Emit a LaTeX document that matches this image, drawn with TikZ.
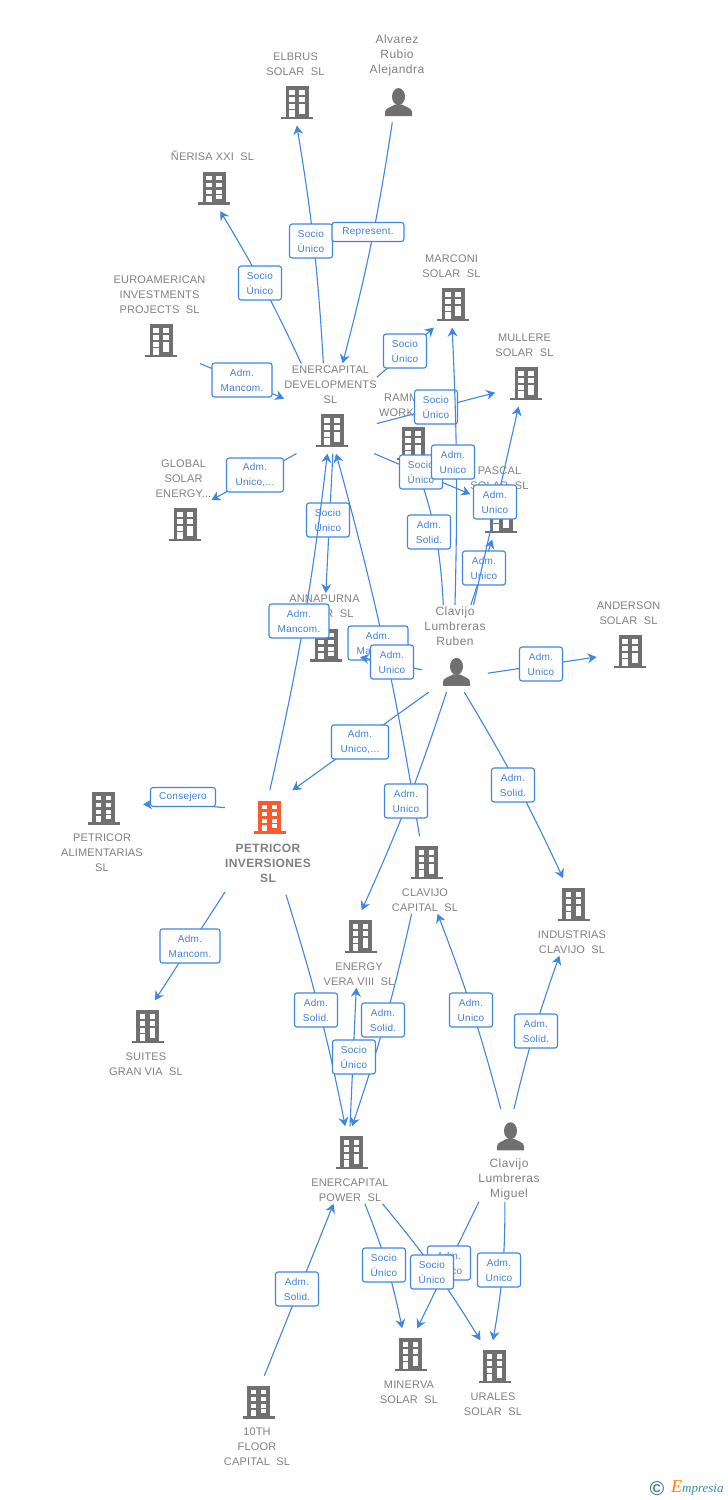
\documentclass[tikz,border=0pt]{standalone}
\usepackage{fontspec}
\setmainfont{Liberation Sans}
\newfontfamily\corpfont[LetterSpace=1.5]{Liberation Sans}
\newfontfamily\namefont[LetterSpace=4]{Liberation Sans}
\newfontfamily\mainfont[LetterSpace=3]{Liberation Sans}
\newfontfamily\tagfont[LetterSpace=2.5]{Liberation Sans}
\newfontfamily\markfont{Liberation Serif}
\usetikzlibrary{arrows.meta}
\definecolor{icogray}{HTML}{707070}
\definecolor{txtgray}{HTML}{808080}
\definecolor{lnkblue}{HTML}{3F86E2}
\definecolor{tagblue}{HTML}{3F80DC}
\definecolor{mainred}{HTML}{FB5A2E}
\definecolor{markblue}{HTML}{4F8098}
\definecolor{markteal}{HTML}{2F8FA8}
\newcommand{\bldg}[1][icogray]{\tikz[x=1pt,y=1pt]{
	\path (-3,-4) (32,41);
	\fill[#1] (0,0) rectangle (32,2.5);
	\fill[#1] (4.5,2) rectangle (27.5,33);
	\foreach \wy in {23.5,16.5,9.5} {\fill[white] (8,\wy+1) rectangle (13.7,\wy+5.5);}
	\foreach \wy in {23.5,16.5,9.5,4.5} {\fill[white] (18,\wy+1) rectangle (23.7,\wy+5.5);}
	\fill[white] (8,2.5) rectangle (13.7,9);
}}
\newcommand{\persn}{\tikz[x=1pt,y=1pt]{
	\path (-3,-4) (27,39);
	\fill[icogray] (13.5,19.5) ellipse (6.5 and 8.5);
	\fill[icogray] (0,0) -- (0,4) .. controls (0,8) and (6,9) .. (10,11.5) -- (17,11.5) .. controls (21,9) and (27,8) .. (27,4) -- (27,0) -- cycle;
}}
\tikzset{
	corp/.style={inner xsep=0pt,inner ysep=2pt,align=center,text=txtgray,font=\corpfont\fontsize{11}{15}\selectfont},
	pers/.style={inner xsep=2pt,inner ysep=2pt,align=center,text=txtgray,font=\namefont\fontsize{12}{15}\selectfont},
	hub/.style={inner xsep=0pt,inner ysep=2pt,align=center,text=txtgray,font=\mainfont\bfseries\fontsize{12}{15}\selectfont},
	lnk/.style={draw=lnkblue,line width=1.1pt,-{Stealth[length=9pt,width=10pt,inset=3pt]}},
	tag/.style={draw=lnkblue,fill=white,line width=1.1pt,rounded corners=2.5pt,inner sep=0pt,align=center,text=tagblue,minimum height=34pt,minimum width=43pt,font=\tagfont\fontsize{10}{15}\selectfont},
	tagw/.style={tag,minimum width=60pt},
	tagl/.style={tag,minimum height=19pt},
}
\begin{document}
\begin{tikzpicture}[x=1pt,y=-1pt]
	\useasboundingbox (0,0) rectangle (728,1500);

	\node[corp] (EB) at (295.5,88) {ELBRUS\\SOLAR~~SL\\[2pt]\bldg};
	\node[pers] (AR) at (397,77.5) {Alvarez\\Rubio\\Alejandra\\[0pt]\persn};
	\node[corp] (NX) at (212.5,180) {ÑERISA XXI~~SL\\[2pt]\bldg};
	\node[corp] (EI) at (159.5,318.5) {EUROAMERICAN\\INVESTMENTS\\PROJECTS~~SL\\[2pt]\bldg};
	\node[corp] (ED) at (330.5,408.5) {ENERCAPITAL\\DEVELOPMENTS\\SL\\[2pt]\bldg};
	\node[corp] (MC) at (451.5,290) {MARCONI\\SOLAR~~SL\\[2pt]\bldg};
	\node[corp] (ML) at (524.5,369) {MULLERE\\SOLAR~~SL\\[2pt]\bldg};
	\node[corp,align=left,anchor=west] (RW) at (379,429) {\hspace*{5pt}RAMM\\WORK\\[2pt]\hspace*{15pt}\bldg};
	\node[corp] (GS) at (183.5,502.5) {GLOBAL\\SOLAR\\ENERGY...\\[2pt]\bldg};
	\node[corp] (PS) at (499.5,502) {PASCAL\\SOLAR~~SL\\[2pt]\bldg};
	\node[corp] (AN) at (324.5,630.5) {ANNAPURNA\\SOLAR~~SL\\[2pt]\bldg};
	\node[pers] (CR) at (455,648.5) {Clavijo\\Lumbreras\\Ruben\\[0pt]\persn};
	\node[corp] (AS) at (628.5,637) {ANDERSON\\SOLAR~~SL\\[2pt]\bldg};
	\node[corp] (PA) at (102,828) {\bldg\\[-2pt]PETRICOR\\ALIMENTARIAS\\SL};
	\node[hub] (PI) at (268,842.5) {\bldg[mainred]\\[0pt]PETRICOR\\INVERSIONES\\SL\rule[-10pt]{0pt}{10pt}};
	\node[corp] (CC) at (425,875) {\bldg\\[-2pt]CLAVIJO\\CAPITAL~~SL};
	\node[corp] (IC) at (572,917) {\bldg\\[-2pt]INDUSTRIAS\\CLAVIJO~~SL};
	\node[corp] (EV) at (359,949) {\bldg\\[-2pt]ENERGY\\VERA VIII~~SL};
	\node[corp] (SG) at (146,1039) {\bldg\\[-2pt]SUITES\\GRAN VIA~~SL};
	\node[corp] (EP) at (350,1165) {\bldg\\[-2pt]ENERCAPITAL\\POWER~~SL};
	\node[pers] (CM) at (509,1155.5) {\persn\\[-2pt]Clavijo\\Lumbreras\\Miguel};
	\node[corp] (MS) at (409,1367) {\bldg\\[-2pt]MINERVA\\SOLAR~~SL};
	\node[corp] (US) at (493,1379) {\bldg\\[-2pt]URALES\\SOLAR~~SL};
	\node[corp] (FC) at (257,1422) {\bldg\\[-2pt]10TH\\FLOOR\\CAPITAL~~SL};

	\draw[lnk] (ED.99) to[bend right=3] (EB.272);
	\node[tag] (LA) at (311,241) {Socio\\Único};
	\draw[lnk] (AR.264) to[bend left=3] (ED.75);
	\node[tagl,minimum width=72pt] (LB) at (368,232) {Represent.};
	\draw[lnk] (ED.123) to[bend right=3] (NX.284);
	\node[tag] (LC) at (260,283) {Socio\\Único};
	\draw[lnk] (EI.312) -- (ED.168);
	\node[tagw] (LD) at (242,380) {Adm.\\Mancom.};
	\draw[lnk] (ED.34) -- (MC.245);
	\node[tag] (LE) at (405,351) {Socio\\Único};
	\draw[lnk] (ED.342) -- (ML.219);
	\node[tag] (LF) at (436,407) {Socio\\Único};
	\draw[lnk] (ED.233) -- (GS.5);
	\node[tagw,minimum width=57pt] (LG) at (255,475) {Adm.\\Unico,...};
	\draw[lnk] (CR.105) to[bend right=8] (RW.288);
	\node[tag] (LH) at (429,532) {Adm.\\Solid.};
	\draw[lnk] (ED.314) -- (PS.165);
	\node[tag] (LI) at (421,472) {Socio\\Único};
	\draw[lnk] (CR.90) to[bend right=2] (MC.271);
	\node[tag] (LJ) at (453,462) {Adm.\\Unico};
	\draw[lnk] (CR.70) -- (PS.259);
	\node[tag] (LK) at (484,568) {Adm.\\Unico};
	\draw[lnk] (CR.67) -- (ML.261);
	\node[tag] (LL) at (495,502) {Adm.\\Unico};
	\draw[lnk] (ED.273) -- (AN.88);
	\node[tag] (LM) at (328,520) {Socio\\Único};
	\draw[lnk] (PI.88) to[bend right=3] (ED.266);
	\node[tagw] (LN) at (299,621) {Adm.\\Mancom.};
	\draw[lnk] (CC.98) to[bend right=3] (ED.277);
	\node[tagw] (LO) at (378,643) {Adm.\\Mancom.};
	\draw[lnk] (CR.213) -- (AN.323);
	\node[tag] (LP) at (392,662) {Adm.\\Unico};
	\draw[lnk] (CR.323) -- (AS.212);
	\node[tag] (LQ) at (541,664) {Adm.\\Unico};
	\draw[lnk] (CR.239) -- (PI.65);
	\node[tagw,minimum width=57pt] (LR) at (360,742) {Adm.\\Unico,...};
	\draw[lnk] (CR.259) to[bend left=3] (EV.86);
	\node[tag] (LS) at (406,801) {Adm.\\Unico};
	\draw[lnk] (CR.282) to[bend left=3] (IC.103);
	\node[tag] (LT) at (513,785) {Adm.\\Solid.};
	\draw[lnk] (PI.141) to[bend right=3] (PA.30);
	\node[tagl,minimum width=65pt] (LU) at (183,797) {Consejero};
	\draw[lnk] (PI.229) -- (SG.77);
	\node[tagw] (LV) at (190,946) {Adm.\\Mancom.};
	\draw[lnk] (PI.289) to[bend left=3] (EP.97);
	\node[tag] (LW) at (316,1010) {Adm.\\Solid.};
	\draw[lnk] (CC.251) to[bend left=3] (EP.87);
	\node[tag] (LX) at (383,1020) {Adm.\\Solid.};
	\draw[lnk] (EP.90) -- (EV.266);
	\node[tag] (LY) at (354,1057) {Socio\\Único};
	\draw[lnk] (CM.100) to[bend right=3] (CC.288);
	\node[tag] (MA) at (471,1010) {Adm.\\Unico};
	\draw[lnk] (CM.84) to[bend left=3] (IC.252);
	\node[tag] (MB) at (536,1031) {Adm.\\Solid.};
	\draw[lnk] (EP.291) to[bend left=5] (MS.100);
	\node[tag] (MC2) at (384,1265) {Socio\\Único};
	\draw[lnk] (CM.237) -- (MS.78);
	\node[tag] (MD) at (449,1263) {Adm.\\Unico};
	\draw[lnk] (EP.310) to[bend left=4] (US.108);
	\node[tag] (ME) at (432,1272) {Socio\\Único};
	\draw[lnk] (CM.265) to[bend left=5] (US.90);
	\node[tag] (MF) at (499,1270) {Adm.\\Unico};
	\draw[lnk] (FC.81) -- (EP.247);
	\node[tag] (MG) at (297,1289) {Adm.\\Solid.};

	\node[inner sep=0pt,text=markblue,font=\bfseries\fontsize{20}{20}\selectfont] (WA) at (657,1489) {©};
	\node[inner sep=0pt,anchor=west,text=markteal,font=\markfont\itshape\fontsize{13}{13}\selectfont] (WB) at (671,1488) {\textcolor{orange}{\fontsize{18}{18}\selectfont E}mpresia};
\end{tikzpicture}
\end{document}
